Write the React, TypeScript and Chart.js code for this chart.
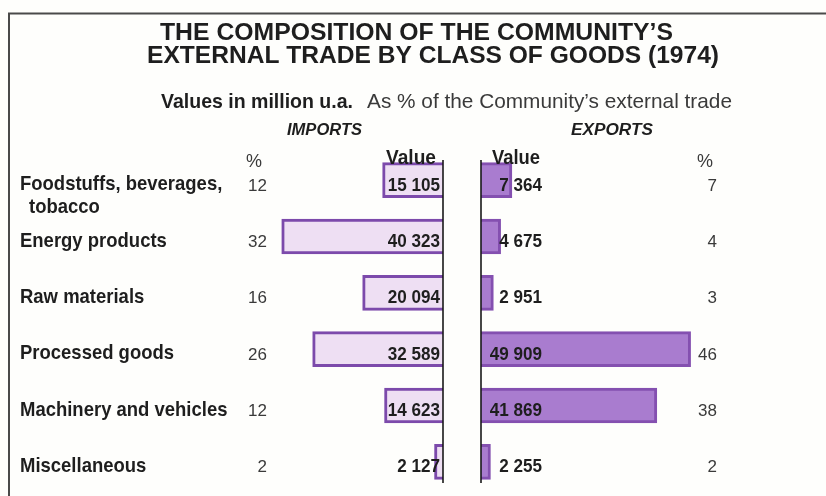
import React, { useEffect, useRef } from "react";
import { Chart, registerables } from "chart.js";

Chart.register(...registerables);

// ---------- data ----------
const categories: string[][] = [
  ["Foodstuffs, beverages,", "tobacco"],
  ["Energy products"],
  ["Raw materials"],
  ["Processed goods"],
  ["Machinery and vehicles"],
  ["Miscellaneous"],
];
const importValues = [15105, 40323, 20094, 32589, 14623, 2127];
const exportValues = [7364, 4675, 2951, 49909, 41869, 2255];
const importPct = [12, 32, 16, 26, 12, 2];
const exportPct = [7, 4, 3, 46, 38, 2];
const titleLines = [
  "THE COMPOSITION OF THE COMMUNITY’S",
  "EXTERNAL TRADE BY CLASS OF GOODS (1974)",
];
const subtitleBold = "Values in million u.a.";
const subtitleRegular = "As % of the Community’s external trade";
const sideHeaders = ["IMPORTS", "EXPORTS"];
const valueHeader = "Value";
const pctHeader = "%";

// ---------- layout ----------
const W = 826;
const H = 496;
const AREA_L = 243;
const AREA_R = 693;
const AREA_T = 152;
const AREA_B = 490;
const IMP_ZERO = 443;
const EXP_ZERO = 481;
const IMP_PX_PER_K = 4.0;
const EXP_PX_PER_K = 4.2;
const FF = "'Liberation Sans', Arial, Helvetica, sans-serif";

function fmt(v: number): string {
  const th = Math.floor(v / 1000);
  const rest = v % 1000;
  return th > 0 ? `${th} ${String(rest).padStart(3, "0")}` : String(v);
}

function txt(
  ctx: CanvasRenderingContext2D,
  s: string,
  x: number,
  y: number,
  font: string,
  align: CanvasTextAlign,
  sx: number,
  color: string
) {
  ctx.save();
  ctx.font = font;
  ctx.fillStyle = color;
  ctx.textAlign = align;
  ctx.textBaseline = "alphabetic";
  ctx.translate(x, y);
  ctx.scale(sx, 1);
  ctx.fillText(s, 0, 0);
  ctx.restore();
}

function fitTxt(
  ctx: CanvasRenderingContext2D,
  s: string,
  x: number,
  y: number,
  font: string,
  width: number,
  align: CanvasTextAlign,
  color: string
) {
  ctx.save();
  ctx.font = font;
  const w = ctx.measureText(s).width || 1;
  ctx.restore();
  txt(ctx, s, x, y, font, align, width / w, color);
}

const decorPlugin = {
  id: "decor",
  beforeDraw(chart: any) {
    const ctx: CanvasRenderingContext2D = chart.ctx;
    ctx.save();
    ctx.fillStyle = "#fefefc";
    ctx.fillRect(0, 0, chart.width, chart.height);
    // frame
    ctx.strokeStyle = "#4a4a4a";
    ctx.lineWidth = 2;
    ctx.beginPath();
    ctx.moveTo(826, 13.5);
    ctx.lineTo(9, 13.5);
    ctx.lineTo(9, 496);
    ctx.stroke();
    ctx.restore();
  },
  afterDatasetsDraw(chart: any) {
    const ctx: CanvasRenderingContext2D = chart.ctx;
    const yS = chart.scales.y;
    const xI = chart.scales.xI;
    const xE = chart.scales.xE;
    const i0 = xI.getPixelForValue(0);
    const e0 = xE.getPixelForValue(0);
    const dark = "#1e1e1e";
    const grey = "#3a3a3a";

    // axis lines
    ctx.save();
    ctx.strokeStyle = "#1a1a1a";
    ctx.lineWidth = 1.6;
    ctx.beginPath();
    ctx.moveTo(i0, 160);
    ctx.lineTo(i0, 483);
    ctx.moveTo(e0, 160);
    ctx.lineTo(e0, 483);
    ctx.stroke();
    ctx.restore();

    // title
    fitTxt(ctx, titleLines[0], 160, 40, `bold 23px ${FF}`, 513, "left", dark);
    fitTxt(ctx, titleLines[1], 147, 63, `bold 23px ${FF}`, 572, "left", dark);
    // subtitle
    fitTxt(ctx, subtitleBold, 161, 108, `bold 21px ${FF}`, 192, "left", dark);
    fitTxt(ctx, subtitleRegular, 367, 108, `21px ${FF}`, 365, "left", grey);
    // side headers
    fitTxt(ctx, sideHeaders[0], 287, 135, `italic bold 16px ${FF}`, 75, "left", dark);
    fitTxt(ctx, sideHeaders[1], 571, 135, `italic bold 16px ${FF}`, 82, "left", dark);
    // column headers
    txt(ctx, pctHeader, 254, 167, `18px ${FF}`, "center", 1, grey);
    txt(ctx, pctHeader, 705, 167, `18px ${FF}`, "center", 1, grey);
    fitTxt(ctx, valueHeader, 411, 164, `bold 21px ${FF}`, 50, "center", dark);
    fitTxt(ctx, valueHeader, 516, 164, `bold 21px ${FF}`, 48, "center", dark);

    categories.forEach((lines, i) => {
      const y = yS.getPixelForValue(i);
      const base = y + 10;
      lines.forEach((ln, j) => {
        txt(ctx, ln, j === 0 ? 20 : 29, base + j * 23, `bold 21px ${FF}`, "left", 0.88, dark);
      });
      txt(ctx, String(importPct[i]), 267, y + 10.5, `17px ${FF}`, "right", 1, grey);
      txt(ctx, String(exportPct[i]), 717, y + 10.5, `17px ${FF}`, "right", 1, grey);
      txt(ctx, fmt(importValues[i]), i0 - 3, y + 10.5, `bold 18px ${FF}`, "right", 0.95, dark);
      txt(ctx, fmt(exportValues[i]), e0 + 61, y + 10.5, `bold 18px ${FF}`, "right", 0.95, dark);
    });
  },
};

export default function App() {
  const ref = useRef<HTMLCanvasElement | null>(null);

  useEffect(() => {
    if (!ref.current) return;
    const chart = new Chart(ref.current, {
      type: "bar",
      data: {
        labels: categories.map((c) => c.join(" ")),
        datasets: [
          {
            label: "Imports",
            data: importValues,
            xAxisID: "xI",
            yAxisID: "y",
            backgroundColor: "#eedff3",
            borderColor: "#7c4aab",
            borderWidth: 3,
            borderSkipped: "start",
            barThickness: 35,
            grouped: false,
          } as any,
          {
            label: "Exports",
            data: exportValues,
            xAxisID: "xE",
            yAxisID: "y",
            backgroundColor: "#a97ccf",
            borderColor: "#8450b0",
            borderWidth: 3,
            borderSkipped: "start",
            barThickness: 35,
            grouped: false,
          } as any,
        ],
      },
      options: {
        indexAxis: "y",
        responsive: false,
        animation: false,
        devicePixelRatio: 1,
        events: [],
        layout: {
          padding: { left: AREA_L, right: W - AREA_R, top: AREA_T, bottom: H - AREA_B },
        },
        plugins: {
          legend: { display: false },
          tooltip: { enabled: false },
          title: { display: false },
        },
        scales: {
          y: { type: "category", display: false, offset: true },
          xI: {
            type: "linear",
            reverse: true,
            display: false,
            min: (-(AREA_R - IMP_ZERO) / IMP_PX_PER_K) * 1000,
            max: ((IMP_ZERO - AREA_L) / IMP_PX_PER_K) * 1000,
          },
          xE: {
            type: "linear",
            display: false,
            min: (-(EXP_ZERO - AREA_L) / EXP_PX_PER_K) * 1000,
            max: ((AREA_R - EXP_ZERO) / EXP_PX_PER_K) * 1000,
          },
        },
      } as any,
      plugins: [decorPlugin],
    });
    return () => chart.destroy();
  }, []);

  return (
    <div style={{ position: "fixed", left: 0, top: 0, width: W, height: H }}>
      <canvas ref={ref} width={W} height={H} style={{ display: "block", width: W, height: H }} />
    </div>
  );
}
